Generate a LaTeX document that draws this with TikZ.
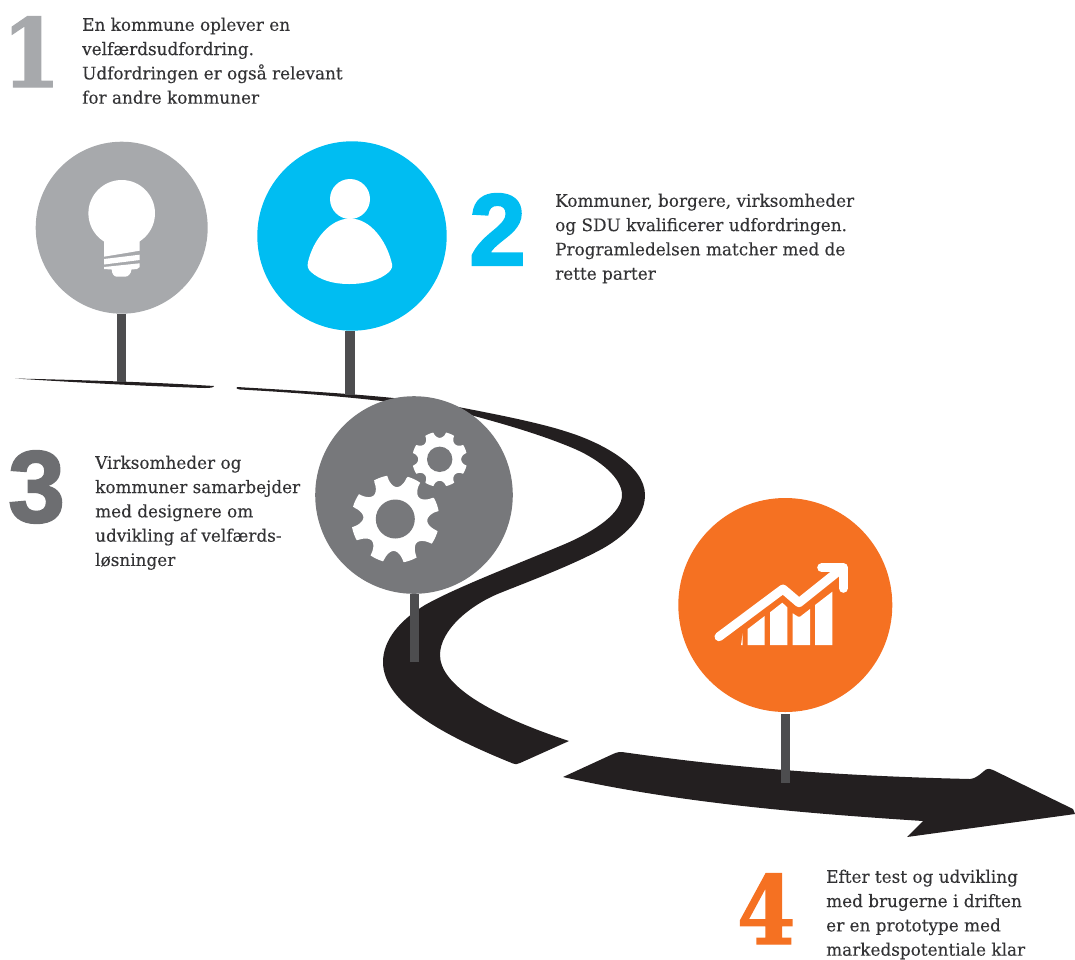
\documentclass[tikz,border=0pt]{standalone}
\usepackage{fontspec}
\setmainfont{DejaVu Serif}[FakeStretch=0.98,FakeBold=0.15]
\newfontfamily\numfont{Liberation Sans Bold}[FakeBold=2]
\newfontfamily\slabfont{DejaVu Serif Bold}[FakeStretch=0.88,FakeBold=1.5]
\definecolor{roadblack}{HTML}{231F20}
\definecolor{stemgrey}{HTML}{4D4D4F}
\definecolor{bulbgrey}{HTML}{A7A9AC}
\definecolor{skyblue}{HTML}{00BDF2}
\definecolor{geargrey}{HTML}{77787B}
\definecolor{numgrey}{HTML}{6D6E71}
\definecolor{orangec}{HTML}{F57122}
\definecolor{textc}{HTML}{333335}
\tikzset{
  bodytext/.style={anchor=north west,align=left,inner sep=0pt,text=textc,font=\fontsize{17.2}{24.3}\selectfont},
  bignum/.style={anchor=base west,inner sep=0pt,font=\numfont\fontsize{102}{102}\selectfont},
  slabnum/.style={anchor=base west,inner sep=0pt,font=\slabfont\fontsize{95}{95}\selectfont},
  disc/.style={circle,inner sep=0pt,minimum size=#1},
  stem/.style={draw=stemgrey,line width=9.3pt},
  road/.style={fill=roadblack},
  icon/.style={fill=white},
  chartline/.style={draw=white,line width=9pt,line cap=round,line join=round}
}
% x y hole outer depth halfwidth(deg) rot
\newcommand{\gearshape}[7]{%
  \fill[white,domain=0:359.5,samples=360,variable=\t,
    declare function={phi(\t)=Mod(\t-#7+22.5,45)-22.5;}]
    plot ({#1+(#4-#5*sqrt(max(0,1-(phi(\t)/#6)^2)))*cos(\t)},{#2+(#4-#5*sqrt(max(0,1-(phi(\t)/#6)^2)))*sin(\t)}) -- cycle;
  \fill[geargrey] (#1,#2) circle[radius=#3];
}
\begin{document}
\begin{tikzpicture}[x=1pt,y=-1pt]
\useasboundingbox (0,0) rectangle (1075,959);
% roads
\fill[road] (15,378.5) .. controls (80,380) and (150,382) .. (214,386) .. controls (214,387.5) and (210,388) .. (205,388) .. controls (140,386) and (70,382) .. (15,378.5) -- cycle;
\fill[road] (237,387)
 .. controls (320,392) and (400,396) .. (456.7,406.7)
 .. controls (500,415) and (540,423) .. (566.7,431.7)
 .. controls (600,442) and (645,465) .. (645,495)
 .. controls (645,522) and (615,542) .. (600,550)
 .. controls (570,566) and (530,581) .. (500,593)
 .. controls (470,605) and (440,630) .. (440,655)
 .. controls (440,685) and (490,715) .. (569,741)
 -- (520,763) .. controls (517,764.5) and (515,764.5) .. (513,763.5)
 .. controls (450,738) and (383,705) .. (383,662)
 .. controls (383,640) and (400,620) .. (425,605)
 .. controls (455,588) and (510,567) .. (565,544)
 .. controls (595,531) and (622,513) .. (622,495)
 .. controls (622,478) and (600,460) .. (575,449)
 .. controls (540,434) and (500,423) .. (467,414)
 .. controls (420,404) and (340,395) .. (240,389.5)
 .. controls (236,389) and (236,387.5) .. (237,387) -- cycle;
\fill[road] (563,777) -- (613,754) .. controls (617,752) and (620,752) .. (622,752)
 .. controls (700,763) and (800,775) .. (970,779)
 .. controls (978,778) and (982,772) .. (986,769.5) .. controls (988,768) and (990,769) .. (993,770)
 -- (1073,809) -- (1075,814) -- (907,837) -- (923,821)
 .. controls (800,813) and (680,803) .. (563,777) -- cycle;
% circles
\node[disc=172pt,fill=bulbgrey] (c1) at (121.7,227.7) {};
\node[disc=189.4pt,fill=skyblue] (c2) at (352,236) {};
\node[disc=214pt,fill=orangec] (c4) at (785.3,605) {};
% stems
\coordinate (s1) at (121.7,382);
\coordinate (s2) at (350,395);
\coordinate (s3) at (414.3,662);
\coordinate (s4) at (785.3,783);
\coordinate (s4top) at (785.3,714);
\draw[stem] (c1.south -| s1) -- (s1);
\draw[stem] (c2.south -| s2) -- (s2);
\draw[stem] (s4top) -- (s4);
\node[disc=197.6pt,fill=geargrey] (c3) at (414,495) {};
\draw[stem] (c3.south -| s3) -- (s3);
% bulb
\fill[icon] (104,236) -- (139.7,238) -- (139.7,250.7) -- (104,256.7) -- cycle;
\fill[icon] (121.7,213.3) circle[radius=33.3];
\fill[icon] (104,259) -- (139.7,254.7) -- (139.7,260) -- (104,264.5) -- cycle;
\fill[icon] (104,267) -- (139.7,263.3) -- (139.7,267) -- (137,269) -- (131.5,269.5) .. controls (131,274) and (128,276.7) .. (125,276.7) -- (117,276.7) .. controls (114,276.7) and (112,274) .. (111.7,269.5) -- (104,269) -- cycle;
% person
\fill[icon] (350,199) circle[radius=20];
\fill[icon] (350,218.5) .. controls (330,218.5) and (313,240) .. (308,262) .. controls (307,267) and (308,269) .. (311,272) .. controls (320,280) and (333,284) .. (349,284) .. controls (366,284) and (380,280) .. (389,272) .. controls (392,269) and (393,266) .. (391.5,262) .. controls (386,240) and (370,218.5) .. (350,218.5) -- cycle;
% gears
\gearshape{395.3}{519}{19.5}{44}{12}{13}{2.5}
\gearshape{439.7}{459.3}{12.7}{27.5}{6}{13}{0}
% chart
\draw[chartline] (719,636.7) -- (783,589) -- (799,602.7) -- (838,571.5);
\draw[chartline] (821.7,567.7) -- (843.3,567.7) -- (843.3,588.3);
\fill[icon] (741,645) -- (742.7,633) -- (742.7,645) -- cycle;
\fill[icon] (747.7,629) -- (764.7,616) -- (764.7,645) -- (747.7,645) -- cycle;
\fill[icon] (770,612.3) -- (782.3,602.7) -- (787.3,607.3) -- (787.3,645) -- (770,645) -- cycle;
\fill[icon] (792.7,613.3) -- (798,616.7) -- (800,616.7) -- (810,609) -- (810,645) -- (792.7,645) -- cycle;
\fill[icon] (815,605) -- (832.3,591.7) -- (832.3,645) -- (815,645) -- cycle;
% texts
\node[bodytext] (t1) at (82,17.5) {En kommune oplever en\\velfærdsudfordring.\\Udfordringen er også relevant\\for andre kommuner};
\node[bodytext] (t2) at (555,193.5) {Kommuner, borgere, virksomheder\\og SDU kvalificerer udfordringen.\\Programledelsen matcher med de\\rette parter};
\node[bodytext] (t3) at (95,455.5) {Virksomheder og\\kommuner samarbejder\\med designere om\\udvikling af velfærds-\\løsninger};
\node[bodytext] (t4) at (826,869.5) {Efter test og udvikling\\med brugerne i driften\\er en prototype med\\markedspotentiale klar};
% numerals
\node[slabnum,text=bulbgrey] (n1) at (2,87) {1};
\node[bignum,text=skyblue] (n2) at (469,265) {2};
\node[bignum,text=numgrey] (n3) at (8,522) {3};
\node[slabnum,text=orangec] (n4) at (737,944) {4};
\end{tikzpicture}
\end{document}
